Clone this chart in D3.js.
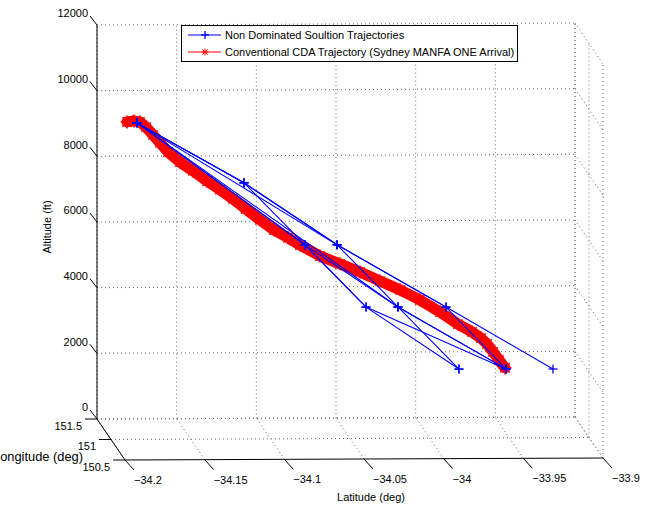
<!DOCTYPE html>
<html>
<head>
  <meta charset="utf-8" />
  <title>CDA trajectories</title>
  <style>
    body { margin: 0; background: #fff; }
    svg { display: block; font-family: "Liberation Sans", Arial, sans-serif; }
    .grid line { stroke: #6a6a6a; stroke-width: 1px; stroke-dasharray: 1 3; }
    .axis line { stroke: #000; stroke-width: 1px; }
    text { font-size: 11px; fill: #000; }
  </style>
</head>
<body>
  <svg></svg>
  <script src="https://d3js.org/d3.v7.min.js"></script>
  <script>
    var width = 646,
      height = 506;

    // tick values
    var latTicks = [-34.2, -34.15, -34.1, -34.05, -34, -33.95, -33.9];
    var lonTicks = [150.5, 151, 151.5];
    var altTicks = [0, 2000, 4000, 6000, 8000, 10000, 12000];

    // non dominated solution trajectories (lat, lon, alt per trajectory)
    var nonDomLat = [
      [-34.1802, -34.1130, -34.0546, -33.9862, -33.9191],
      [-34.1802, -34.1130, -34.0747, -34.0364, -33.9781],
      [-34.1802, -34.0546, -34.0164, -33.9781],
      [-34.1802, -34.0747, -34.0164, -33.9486],
      [-34.1802, -34.0747, -34.0364, -33.9486],
      [-34.1802, -34.1130, -34.0546, -33.9862, -33.9486],
      [-34.1802, -34.0164, -33.9486]
    ];
    var nonDomLon = [
      [151.2, 151.2, 151.2, 151.2, 151.2],
      [151.2, 151.2, 151.2, 151.2, 151.2],
      [151.2, 151.2, 151.2, 151.2],
      [151.2, 151.2, 151.2, 151.2],
      [151.2, 151.2, 151.2, 151.2],
      [151.2, 151.2, 151.2, 151.2, 151.2],
      [151.2, 151.2, 151.2]
    ];
    var nonDomAlt = [
      [9390, 7550, 5650, 3740, 1840],
      [9390, 7550, 5650, 3750, 1850],
      [9390, 5650, 3750, 1850],
      [9390, 5650, 3750, 1850],
      [9390, 5650, 3750, 1850],
      [9390, 7550, 5650, 3740, 1850],
      [9390, 3750, 1850]
    ];

    // conventional CDA trajectory (Sydney MANFA ONE arrival)
    var cdaLat = [-34.1864, -34.1821, -34.1783, -34.1745, -34.1701, -34.1657, -34.1607, -34.1532,
      -34.1450, -34.1362, -34.1281, -34.1199, -34.1118, -34.1030, -34.0942, -34.0854, -34.0779,
      -34.0653, -34.0528, -34.0402, -34.0277, -34.0151, -34.0026, -33.9900, -33.9787, -33.9699,
      -33.9643, -33.9605, -33.9567, -33.9530, -33.9492];
    var cdaAlt = [9420, 9450, 9420, 9260, 9020, 8780, 8500, 8190, 7920, 7610, 7340, 7060, 6750,
      6420, 6110, 5870, 5650, 5310, 5070, 4820, 4540, 4270, 3960, 3590, 3220, 2980, 2790, 2610,
      2370, 2120, 1880];
    var cdaLon = cdaLat.map(function () { return 151.2; });

    var svg = d3.select("svg").attr("width", width).attr("height", height);

    // 3d -> screen (fixed matlab-like view)
    var latS = d3.scaleLinear().domain([-34.2, -33.9]).range([0, 1]);
    var lonS = d3.scaleLinear().domain([150.5, 151.5]).range([0, 1]);
    var altS = d3.scaleLinear().domain([0, 12000]).range([0, 1]);
    var org = [125, 460], ex = [478, -2], ey = [-28, -41], ez = [0, -394];
    function proj(lat, lon, alt) {
      var a = latS(lat), b = lonS(lon), c = altS(alt);
      return [org[0] + a * ex[0] + b * ey[0] + c * ez[0],
              org[1] + a * ex[1] + b * ey[1] + c * ez[1]];
    }
    function seg(g, p, q) {
      g.append("line").attr("x1", p[0]).attr("y1", p[1]).attr("x2", q[0]).attr("y2", q[1]);
    }

    var latMin = -34.2, latMax = -33.9, lonMin = 150.5, lonMax = 151.5, altMax = 12000;

    // grid on the three back planes
    var grid = svg.append("g").attr("class", "grid");
    altTicks.forEach(function (z) {
      seg(grid, proj(latMin, lonMax, z), proj(latMax, lonMax, z));
      seg(grid, proj(latMax, lonMax, z), proj(latMax, lonMin, z));
    });
    latTicks.forEach(function (x) {
      seg(grid, proj(x, lonMax, 0), proj(x, lonMax, altMax));
      seg(grid, proj(x, lonMin, 0), proj(x, lonMax, 0));
    });
    lonTicks.forEach(function (y) {
      seg(grid, proj(latMax, y, 0), proj(latMax, y, altMax));
      if (y !== lonMin) seg(grid, proj(latMin, y, 0), proj(latMax, y, 0));
    });

    // axes
    var axis = svg.append("g").attr("class", "axis");
    seg(axis, proj(latMin, lonMax, 0), proj(latMin, lonMax, altMax));
    seg(axis, proj(latMin, lonMin, 0), proj(latMin, lonMax, 0));
    seg(axis, proj(latMin, lonMin, 0), proj(latMax, lonMin, 0));

    altTicks.forEach(function (z) {
      var p = proj(latMin, lonMax, z);
      seg(axis, p, [p[0] - 7, p[1] - 9]);
      svg.append("text").attr("x", p[0] - 9).attr("y", p[1] - 11.5).attr("dy", "0.35em")
        .attr("text-anchor", "end").text(z);
    });
    lonTicks.forEach(function (y) {
      var p = proj(latMin, y, 0);
      seg(axis, p, [p[0] - 12, p[1]]);
      svg.append("text").attr("x", p[0] - 15).attr("y", p[1] + 7).attr("dy", "0.35em")
        .attr("text-anchor", "end").text(y);
    });
    latTicks.forEach(function (x) {
      var p = proj(x, lonMin, 0);
      seg(axis, p, [p[0] + 9, p[1] + 10]);
      svg.append("text").attr("x", p[0] + 9).attr("y", p[1] + 20).attr("dy", "0.35em")
        .text(String(x).replace("-", "\u2212"));
    });

    svg.append("text").attr("x", 371).attr("y", 497).attr("dy", "0.35em")
      .attr("text-anchor", "middle").text("Latitude (deg)");
    // label runs off the left edge, as in the original figure
    svg.append("text").attr("x", -7).attr("y", 457).attr("dy", "0.35em")
      .attr("textLength", 90).attr("lengthAdjust", "spacingAndGlyphs")
      .style("font-size", "12px").text("Longitude (deg)");
    svg.append("text").attr("transform", "translate(47,227) rotate(-90)").attr("dy", "0.35em")
      .attr("text-anchor", "middle").text("Altitude (ft)");

    var line = d3.line();

    function plus(g, p, r, color) {
      seg(g, [p[0] - r, p[1]], [p[0] + r, p[1]]);
      seg(g, [p[0], p[1] - r], [p[0], p[1] + r]);
      g.selectAll("line").attr("stroke", color).attr("stroke-width", 1.3);
    }
    function star(g, p, r, color, w) {
      var d = r * 0.72;
      seg(g, [p[0] - r, p[1]], [p[0] + r, p[1]]);
      seg(g, [p[0], p[1] - r], [p[0], p[1] + r]);
      seg(g, [p[0] - d, p[1] - d], [p[0] + d, p[1] + d]);
      seg(g, [p[0] - d, p[1] + d], [p[0] + d, p[1] - d]);
      g.selectAll("line").attr("stroke", color).attr("stroke-width", w);
    }

    // conventional trajectory: thick red band of asterisks
    var cdaPts = cdaLat.map(function (v, i) { return proj(v, cdaLon[i], cdaAlt[i]); });
    var red = svg.append("g");
    red.append("path").attr("d", line(cdaPts)).attr("fill", "none")
      .attr("stroke", "#ff0000").attr("stroke-width", 11)
      .attr("stroke-linejoin", "round").attr("stroke-linecap", "round");
    cdaPts.forEach(function (p) { star(red.append("g"), p, 6.5, "#ff0000", 1.5); });

    // non dominated trajectories
    var blue = svg.append("g");
    nonDomLat.forEach(function (lats, k) {
      var pts = lats.map(function (v, i) { return proj(v, nonDomLon[k][i], nonDomAlt[k][i]); });
      blue.append("path").attr("d", line(pts)).attr("fill", "none")
        .attr("stroke", "#0000ff").attr("stroke-width", 1.1);
      pts.forEach(function (p) { plus(blue.append("g"), p, 4.5, "#0000ff"); });
    });

    // legend
    var lg = svg.append("g");
    lg.append("rect").attr("x", 181.5).attr("y", 25.5).attr("width", 336).attr("height", 36)
      .attr("fill", "#fff").attr("stroke", "#000");
    lg.append("line").attr("x1", 188).attr("x2", 221).attr("y1", 35).attr("y2", 35).attr("stroke", "#0000ff");
    plus(lg.append("g"), [205, 35], 4, "#0000ff");
    lg.append("text").attr("x", 225).attr("y", 35).attr("dy", "0.35em").text("Non Dominated Soultion Trajectories");
    lg.append("line").attr("x1", 188).attr("x2", 221).attr("y1", 52).attr("y2", 52).attr("stroke", "#ff0000");
    star(lg.append("g"), [205, 52], 3.5, "#ff0000", 1);
    lg.append("text").attr("x", 225).attr("y", 52).attr("dy", "0.35em").text("Conventional CDA Trajectory (Sydney MANFA ONE Arrival)");
  </script>
</body>
</html>
